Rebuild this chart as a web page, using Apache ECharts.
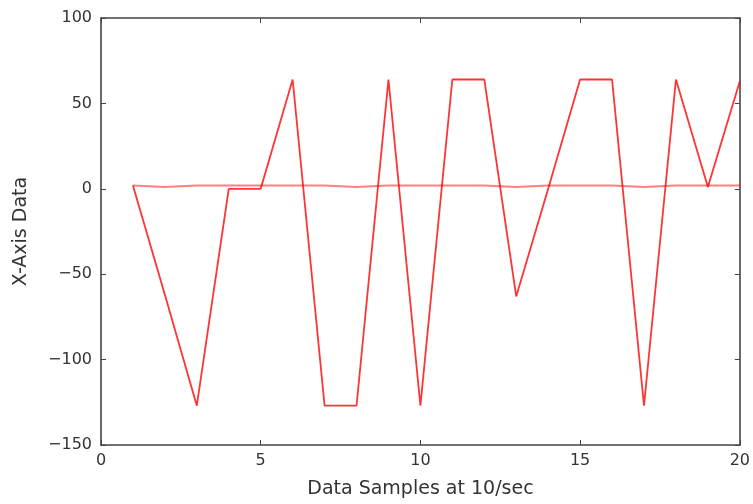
<!DOCTYPE html>
<html>
<head>
<meta charset="utf-8">
<script src="https://cdn.jsdelivr.net/npm/echarts@6/dist/echarts.min.js"></script>
<style>html,body{margin:0;padding:0;background:#fff}#c{width:753px;height:504px}</style>
</head>
<body>
<div id="c"></div>
<script>
const samples = [1,2,3,4,5,6,7,8,9,10,11,12,13,14,15,16,17,18,19,20];
const seriesA = [2,-62,-127,0,0,64,-127,-127,64,-127,64,64,-63,0,64,64,-127,64,1,63];
const seriesB = [2,1,2,2,2,2,2,1,2,2,2,2,1,2,2,2,1,2,2,2];
const xTicks = [0,5,10,15,20];
const yTicks = [-150,-100,-50,0,50,100];

const font = 'DejaVu Sans';
const axisCol = '#444';
const chart = echarts.init(document.getElementById('c'), null, {renderer:'canvas'});
function pairs(vals){ return samples.map((x,i)=>[x, vals[i]]); }
const lbl = {fontFamily:font, fontSize:16, color:'#333'};
chart.setOption({
  animation:false,
  grid:{left:101, right:12, top:18, bottom:58},
  xAxis:[{
    type:'value', min:xTicks[0], max:xTicks[xTicks.length-1], interval:5,
    name:'Data Samples at 10/sec', nameLocation:'middle', nameGap:35,
    nameTextStyle:{fontFamily:font, fontSize:19, color:'#333'},
    axisLine:{show:true, onZero:false, lineStyle:{color:axisCol, width:1.6}},
    axisTick:{show:true, inside:true, length:5, lineStyle:{color:axisCol}},
    axisLabel:{...lbl, margin:8},
    splitLine:{show:false}
  },{
    type:'value', position:'top', min:0, max:20, interval:5,
    axisLine:{show:true, onZero:false, lineStyle:{color:axisCol, width:1.6}},
    axisTick:{show:true, inside:true, length:5, lineStyle:{color:axisCol}},
    axisLabel:{show:false}, splitLine:{show:false}
  }],
  yAxis:[{
    type:'value', min:yTicks[0], max:yTicks[yTicks.length-1], interval:50,
    name:'X-Axis Data', nameLocation:'middle', nameGap:70, nameRotate:90,
    nameTextStyle:{fontFamily:font, fontSize:19, color:'#333'},
    axisLine:{show:true, onZero:false, lineStyle:{color:axisCol, width:1.6}},
    axisTick:{show:true, inside:true, length:5, lineStyle:{color:axisCol}},
    axisLabel:{...lbl, margin:9, formatter:v=>String(v).replace('-','\u2212')},
    splitLine:{show:false}
  },{
    type:'value', position:'right', min:-150, max:100, interval:50,
    axisLine:{show:true, onZero:false, lineStyle:{color:axisCol, width:1.6}},
    axisTick:{show:true, inside:true, length:5, lineStyle:{color:axisCol}},
    axisLabel:{show:false}, splitLine:{show:false}
  }],
  series:[
    {type:'line', data:pairs(seriesB), showSymbol:false, symbol:'none',
     lineStyle:{color:'rgba(255,0,0,0.5)', width:2}},
    {type:'line', data:pairs(seriesA), showSymbol:false, symbol:'none',
     lineStyle:{color:'rgba(255,0,0,0.8)', width:1.8}}
  ]
});
</script>
</body>
</html>
